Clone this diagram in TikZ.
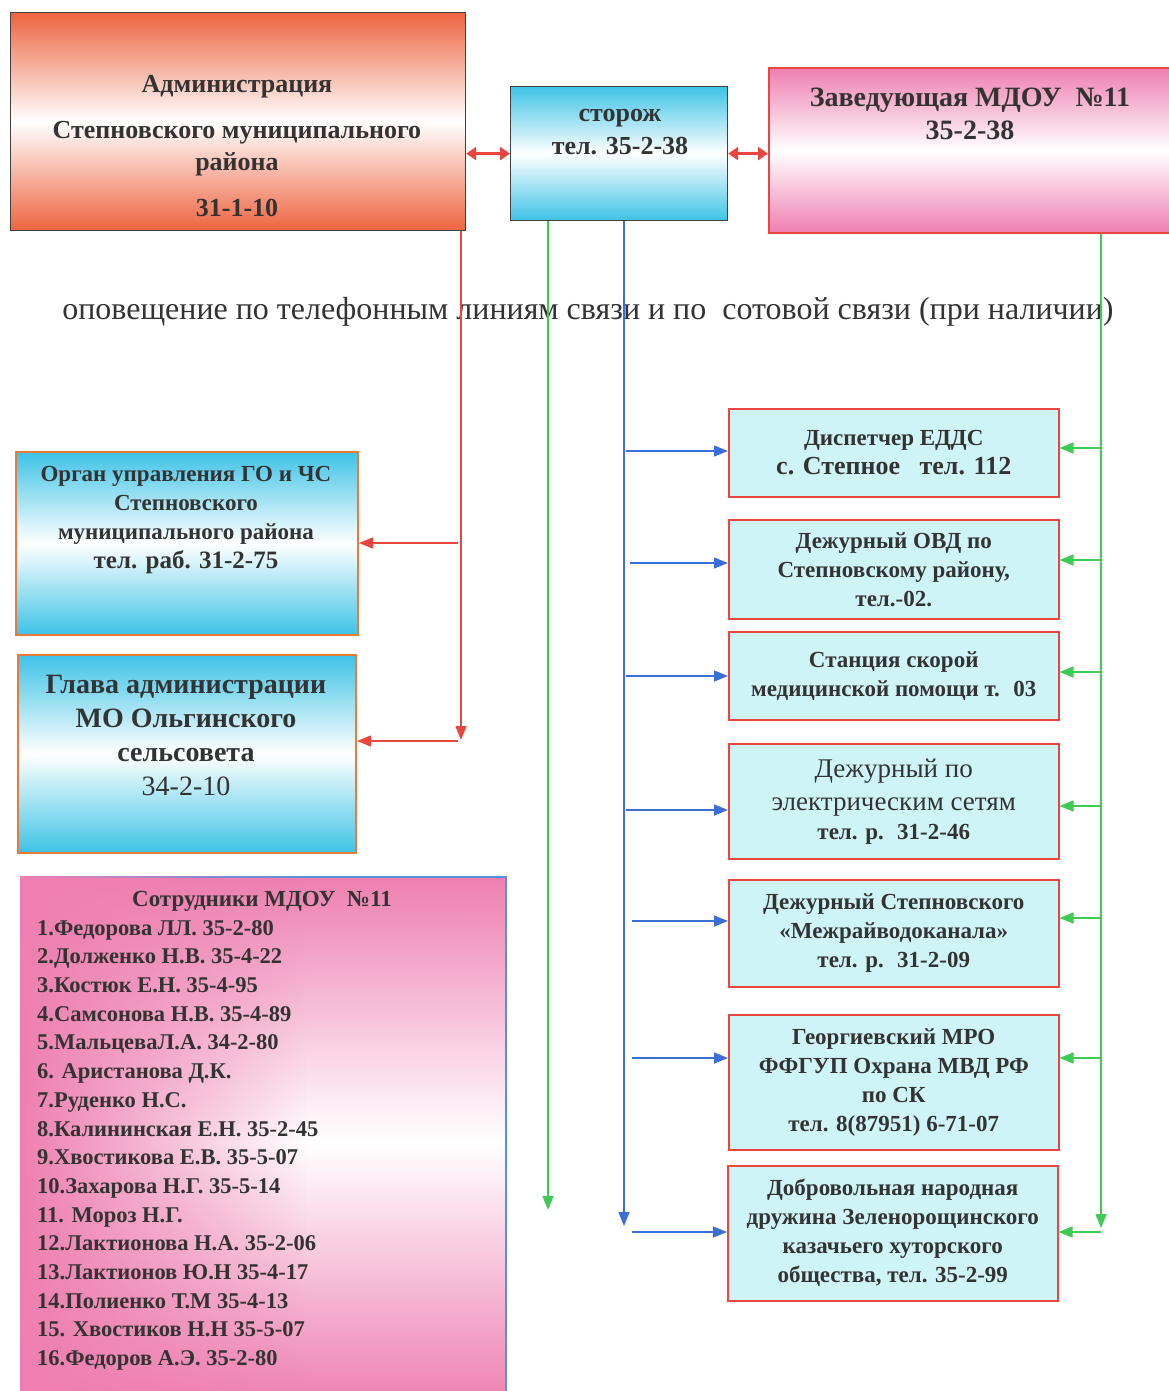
\documentclass[tikz,border=0pt]{standalone}
\usepackage{fontspec}
\setmainfont{Liberation Serif}
\usetikzlibrary{arrows.meta}
\usetikzlibrary{fadings}
\definecolor{txtgray}{HTML}{333333}
\definecolor{admred}{HTML}{EE6440}
\definecolor{boxcyan}{HTML}{3EC3E6}
\definecolor{boxpink}{HTML}{EE7FB0}
\definecolor{palecyan}{HTML}{CFF4F8}
\definecolor{linered}{HTML}{E8463E}
\definecolor{linegreen}{HTML}{3FC955}
\definecolor{lineblue}{HTML}{3C6ED8}
\definecolor{edgeorange}{HTML}{E87A3A}
\definecolor{edgeblue}{HTML}{5A8FE0}
\newcommand{\setfs}[2]{\fontsize{#1}{#2}\selectfont}

\begin{document}
\begin{tikzpicture}[x=1pt,y=-1pt,
    every node/.style={text=txtgray,inner sep=0pt},
    topbox/.style={draw,rectangle,anchor=north west,line width=1.2pt},
    depbox/.style={draw=linered,line width=1.5pt,fill=palecyan,anchor=north west,
        minimum width=330pt,align=center,font=\bfseries\setfs{23}{29}},
    rd/.style={linered,line width=1.4pt,-{Triangle[length=14pt,width=11pt]}},
    bl/.style={lineblue,line width=1.4pt,-{Triangle[length=14pt,width=11pt]}},
    gr/.style={linegreen,line width=1.4pt,-{Triangle[length=14pt,width=11pt]}},
    dbl/.style={linered,line width=3.5pt,{Triangle[length=10pt,width=13pt]}-{Triangle[length=10pt,width=13pt]}}]
    \useasboundingbox (0,0) rectangle (1168,1391);

    % top row
    \node[topbox,draw=black!75,top color=admred,bottom color=admred,middle color=white,
        minimum width=455pt,minimum height=218pt] (adm) at (10,12) {};
    \node[font=\bfseries\setfs{26}{32},align=center] (admt) at (237,146)
        {Администрация\\[14pt]Степновского муниципального\\района\\[14pt]31-1-10};

    \node[topbox,draw=black!75,top color=boxcyan,bottom color=boxcyan,middle color=white,
        minimum width=217pt,minimum height=134pt] (st) at (510,86) {};
    \node[font=\bfseries\setfs{26}{33},align=center] (stt) at (620,132) {сторож\\тел. 35-2-38};

    \node[topbox,draw=linered,line width=2pt,top color=boxpink,bottom color=boxpink,middle color=white,
        minimum width=405pt,minimum height=165pt] (zav) at (768,67) {};
    \node[font=\bfseries\setfs{28}{33},align=center] (zavt) at (970,114) {Заведующая МДОУ \ №11\\35-2-38};

    \node[font=\setfs{32}{36}] (note) at (588,312)
        {оповещение по телефонным линиям связи и по \ сотовой связи (при наличии)};

    % left column
    \node[topbox,draw=edgeorange,line width=2pt,top color=boxcyan,bottom color=boxcyan,middle color=white,
        minimum width=342pt,minimum height=183pt] (go) at (15,451) {};
    \node[font=\bfseries\setfs{23}{29},align=center] (got) at (186,520)
        {Орган управления ГО и ЧС\\Степновского\\муниципального района\\{\setfs{25}{29}тел. раб. 31-2-75}};

    \node[topbox,draw=edgeorange,line width=2pt,top color=boxcyan,bottom color=boxcyan,middle color=white,
        minimum width=338pt,minimum height=198pt] (gl) at (17,654) {};
    \node[font=\bfseries\setfs{28}{34},align=center] (glt) at (186,735)
        {Глава администрации\\МО Ольгинского\\сельсовета\\{\mdseries 34-2-10}};

    \node[topbox,draw=edgeblue,line width=1.5pt,top color=boxpink,bottom color=boxpink,middle color=white,
        minimum width=485pt,minimum height=530pt] (emp) at (20,876) {};
    \fill[boxpink,path fading=east] (emp.north west) rectangle ([xshift=-200pt]emp.south east);
    \node[font=\bfseries\setfs{23}{29}] (empt) at (262,901) {Сотрудники МДОУ \ №11};
    \node[font=\bfseries\setfs{22.5}{28.7},align=left,anchor=north west] (empl) at (37,920)
        {1.Федорова ЛЛ. 35-2-80\\2.Долженко Н.В. 35-4-22\\3.Костюк Е.Н. 35-4-95\\
         4.Самсонова Н.В. 35-4-89\\5.МальцеваЛ.А. 34-2-80\\6. Аристанова Д.К.\\
         7.Руденко Н.С.\\8.Калининская Е.Н. 35-2-45\\9.Хвостикова Е.В. 35-5-07\\
         10.Захарова Н.Г. 35-5-14\\11. Мороз Н.Г.\\12.Лактионова Н.А. 35-2-06\\
         13.Лактионов Ю.Н 35-4-17\\14.Полиенко Т.М 35-4-13\\15. Хвостиков Н.Н 35-5-07\\
         16.Федоров А.Э. 35-2-80};

    % right column
    \node[depbox,minimum height=88pt] (d1) at (728,408)
        {Диспетчер ЕДДС\\{\setfs{26}{31}с. Степное \ \ тел. 112}};
    \node[depbox,minimum height=99pt] (d2) at (728,519)
        {Дежурный ОВД по\\Степновскому району,\\тел.-02.};
    \node[depbox,minimum height=88pt] (d3) at (728,631)
        {Станция скорой\\медицинской помощи т. \ 03};
    \node[depbox,minimum height=115pt] (d4) at (728,743)
        {{\mdseries\setfs{27}{33}Дежурный по}\\[4pt]{\mdseries\setfs{27}{33}электрическим сетям}\\тел. р. \ 31-2-46};
    \node[depbox,minimum height=107pt] (d5) at (728,879)
        {Дежурный Степновского\\«Межрайводоканала»\\тел. р. \ 31-2-09};
    \node[depbox,minimum height=135pt] (d6) at (728,1014)
        {Георгиевский МРО\\ФФГУП Охрана МВД РФ\\по СК\\тел. 8(87951) 6-71-07};
    \node[depbox,minimum height=135pt] (d7) at (727,1165)
        {Добровольная народная\\дружина Зеленорощинского\\казачьего хуторского\\общества, тел. 35-2-99};

    % connections
    \draw[dbl] (st.west -| adm.east) -- (st.west);
    \draw[dbl] (st.east) -- (st.east -| zav.west);

    \coordinate (rend) at (461,740);
    \draw[rd] (rend |- adm.south) -- (rend);
    \coordinate (r1) at (458,543);
    \coordinate (r2) at (458,741);
    \draw[rd] (r1) -- (r1 -| go.east);
    \draw[rd] (r2) -- (r2 -| gl.east);

    \coordinate (gend) at (548,1210);
    \draw[gr] (gend |- st.south) -- (gend);

    \coordinate (bend) at (624,1226);
    \draw[bl] (bend |- st.south) -- (bend);
    \coordinate (b1) at (626,451);
    \coordinate (b2) at (630,563);
    \coordinate (b3) at (626,676);
    \coordinate (b4) at (626,810);
    \coordinate (b5) at (632,921);
    \coordinate (b6) at (632,1058);
    \coordinate (b7) at (632,1232);
    \draw[bl] (b1) -- (b1 -| d1.west);
    \draw[bl] (b2) -- (b2 -| d2.west);
    \draw[bl] (b3) -- (b3 -| d3.west);
    \draw[bl] (b4) -- (b4 -| d4.west);
    \draw[bl] (b5) -- (b5 -| d5.west);
    \draw[bl] (b6) -- (b6 -| d6.west);
    \draw[bl] (b7) -- (b7 -| d7.west);

    \coordinate (hend) at (1101,1228);
    \draw[gr] (hend |- zav.south) -- (hend);
    \coordinate (h1) at (1101,448);
    \coordinate (h2) at (1101,560);
    \coordinate (h3) at (1101,672);
    \coordinate (h4) at (1101,806);
    \coordinate (h5) at (1101,918);
    \coordinate (h6) at (1101,1058);
    \coordinate (h7) at (1101,1232);
    \draw[gr] (h1) -- (h1 -| d1.east);
    \draw[gr] (h2) -- (h2 -| d2.east);
    \draw[gr] (h3) -- (h3 -| d3.east);
    \draw[gr] (h4) -- (h4 -| d4.east);
    \draw[gr] (h5) -- (h5 -| d5.east);
    \draw[gr] (h6) -- (h6 -| d6.east);
    \draw[gr] (h7) -- (h7 -| d7.east);
\end{tikzpicture}
\end{document}
